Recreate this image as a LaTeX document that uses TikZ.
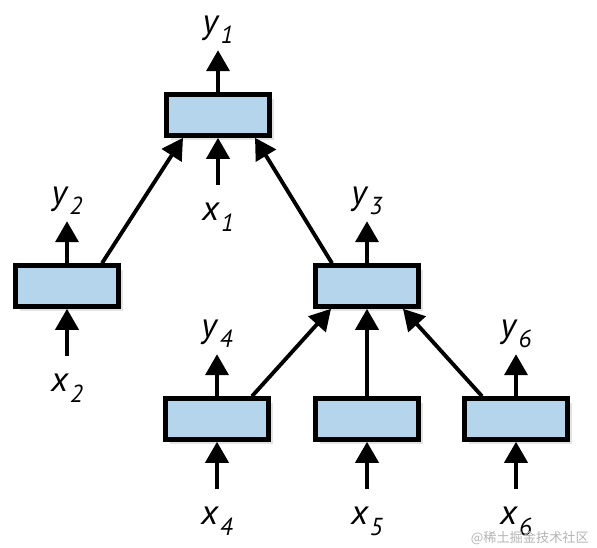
\documentclass[tikz,border=0pt]{standalone}
\usepackage{fontspec}
\setmainfont{PT Sans}
\newfontfamily\cjk{Noto Sans CJK SC}
\usetikzlibrary{arrows.meta,positioning,calc,shadows}
\definecolor{cellBlue}{HTML}{B4D5EB}
\definecolor{markGrey}{HTML}{B4B4B4}
\newcommand{\sym}[2]{\textit{#1}\kern0.5pt\raisebox{-6pt}{\fontsize{14}{14}\selectfont\textit{#2}}}

\begin{document}
\begin{tikzpicture}[x=0.02cm,y=-0.02cm,
  cell/.style={draw,line width=2.6pt,fill=cellBlue,minimum width=2.06cm,minimum height=0.82cm,inner sep=0pt,
    drop shadow={shadow xshift=2.5pt,shadow yshift=-2.5pt,opacity=0.22}},
  link/.style={line width=2.2pt,-{Triangle[width=0.46cm,length=0.42cm]}},
  lab/.style={font=\fontsize{20}{24}\selectfont,inner sep=0pt}]
\useasboundingbox (0,0) rectangle (597,547);
% cells of the tree
\node[cell] (c1) at (218,115) {};
\node[cell] (c2) at (67,286) {};
\node[cell] (c3) at (367,286) {};
\node[cell] (c4) at (217,419) {};
\node[cell] (c5) at (367,419) {};
\node[cell] (c6) at (516,419) {};
% outputs
\foreach \i in {1,2,3,4,6} {
  \coordinate (o\i) at ($(c\i.north)+(0,-42)$);
  \draw[link] (c\i) -- (o\i);
  \node[lab,above=0.12cm of o\i] (y\i) {\sym{y}{\i}};
}
% inputs
\foreach \i in {1,2,4,5,6} {
  \coordinate (i\i) at ($(c\i.south)+(0,47)$);
  \draw[link] (i\i) -- (c\i);
  \node[lab,below=0.36cm of i\i] (x\i) {\sym{x}{\i}};
}
% children into parents
\draw[link] ($(c2.north)+(35,0)$) -- ($(c1.south)+(-35,0)$);
\draw[link] ($(c3.north)+(-35,0)$) -- ($(c1.south)+(37,0)$);
\draw[link] ($(c4.north)+(35,0)$) -- ($(c3.south)+(-36,0)$);
\draw[link] (c5) -- (c3);
\draw[link] ($(c6.north)+(-34,0)$) -- ($(c3.south)+(36,0)$);
\node[anchor=east,font=\cjk\fontsize{7.5}{9}\selectfont,text=markGrey] (mark) at (595,538) {@稀土掘金技术社区};
\end{tikzpicture}
\end{document}
